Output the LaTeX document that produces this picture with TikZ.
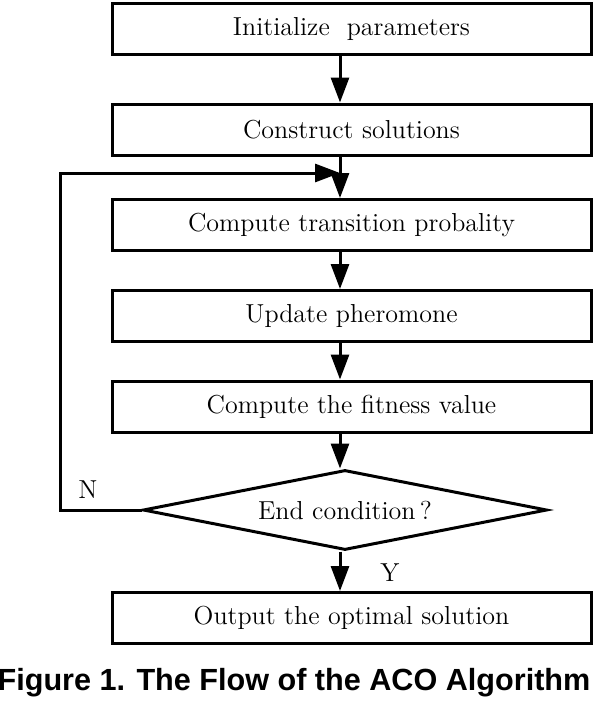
\documentclass[tikz,border=0pt]{standalone}
\usepackage{fontspec}
\newfontfamily\capfont{Liberation Sans}
\usetikzlibrary{shapes.geometric}
\usetikzlibrary{arrows.meta}
\tikzset{>={Triangle[length=12.5pt,width=9pt]}}
\tikzset{stepbox/.style={draw, rectangle, minimum width=239.5pt, minimum height=25.5pt, inner sep=0pt, font=\fontsize{13}{15}\selectfont}}
\tikzset{testbox/.style={draw, diamond, aspect=5, minimum width=202pt, minimum height=40pt, inner sep=0pt, font=\fontsize{13}{15}\selectfont}}
\tikzset{flow/.style={->}}
\begin{document}
\begin{tikzpicture}[x=0.5pt, y=-0.5pt, line width=1.5pt]
\useasboundingbox (0,0) rectangle (596,702);
\node[stepbox] (init) at (351.5,29) {Initialize\ \ parameters};
\node[stepbox] (cons) at (351.5,129.5) {Construct solutions};
\node[stepbox] (prob) at (351.5,225) {Compute transition probality};
\node[stepbox] (pher) at (351.5,316) {Update pheromone};
\node[stepbox] (fit) at (351.5,406.5) {Compute the fitness value};
\node[testbox] (end) at (345,510) {End condition\,?};
\node[stepbox] (out) at (351.5,618) {Output the optimal solution};
\coordinate (ax) at (340,0);
\coordinate (lp) at (60,173);
% main flow
\draw[flow] (init.south -| ax) -- (cons.north -| ax);
\draw[flow] (cons.south -| ax) -- (prob.north -| ax);
\draw[flow] (prob.south -| ax) -- (pher.north -| ax);
\draw[flow] (pher.south -| ax) -- (fit.north -| ax);
\draw[flow] (fit.south -| ax) -- (end.north -| ax);
\draw[flow] (end.south -| ax) -- (out.north -| ax);
% N back to the loop
\draw[flow] (end.west) -| (lp) -- (lp -| ax);
\node[font=\fontsize{13}{15}\selectfont] (no) at (88,490) {N};
\node[font=\fontsize{13}{15}\selectfont] (yes) at (390,573) {Y};
\node[anchor=base, font=\capfont\bfseries\fontsize{15.3}{18}\selectfont, inner sep=0pt] (cap) at (294,690) {Figure 1. The Flow of the ACO Algorithm};
\end{tikzpicture}
\end{document}
